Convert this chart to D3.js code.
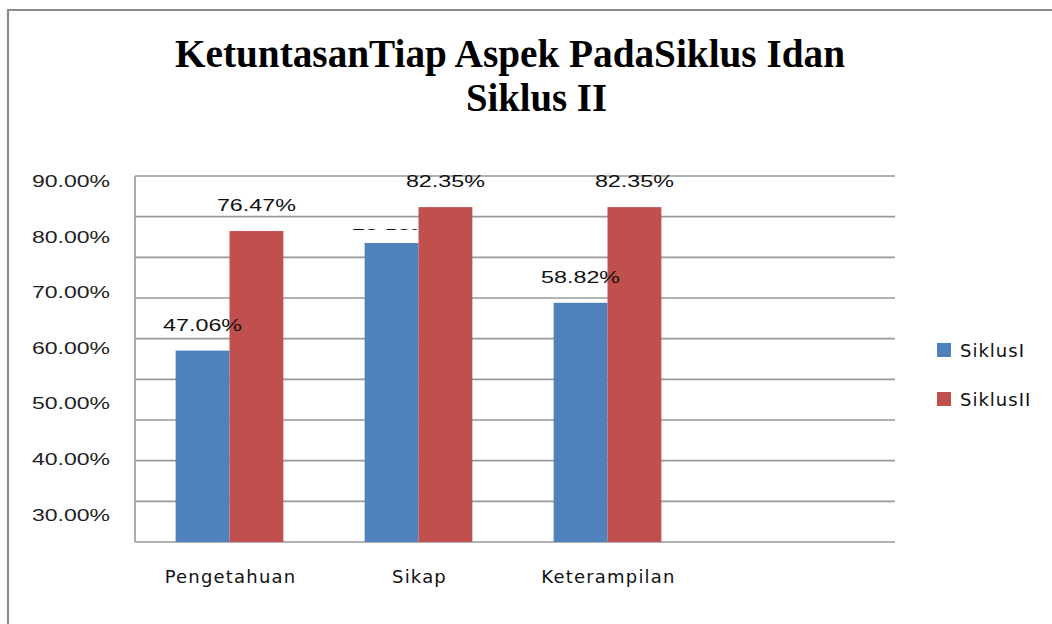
<!DOCTYPE html>
<html><head><meta charset="utf-8">
<script src="https://cdn.jsdelivr.net/npm/d3@7"></script>
<style>html,body{margin:0;padding:0;background:#fff;}</style>
</head><body>
<svg id="c" width="1052" height="624"></svg>
<script>
const categories = ["Pengetahuan", "Sikap", "Keterampilan"];
const seriesNames = ["SiklusI", "SiklusII"];
const siklusI = [0.4706, 0.7353, 0.5882];
const siklusII = [0.7647, 0.8235, 0.8235];
const tickLabels = [0.9, 0.8, 0.7, 0.6, 0.5, 0.4, 0.3];
const gridValues = [0, 0.1, 0.2, 0.3, 0.4, 0.5, 0.6, 0.7, 0.8, 0.9];
const colors = ["#4F81BD", "#C0504D"];

const svg = d3.select("#c");
const fmt = d3.format(".2%");

// outer frame
svg.append("path").attr("d", "M8,630 L8,10 L1060,10")
  .attr("fill", "none").attr("stroke", "#8c8c8c").attr("stroke-width", 2.2);

// title
const title = svg.append("g").attr("font-family", "Liberation Serif").attr("font-weight", "bold")
  .attr("font-size", 40).attr("fill", "#000");
title.append("text").attr("x", 175).attr("y", 67).attr("textLength", 670)
  .attr("lengthAdjust", "spacingAndGlyphs").text("KetuntasanTiap Aspek PadaSiklus Idan");
title.append("text").attr("x", 466).attr("y", 111).attr("textLength", 141)
  .attr("lengthAdjust", "spacingAndGlyphs").text("Siklus II");

const plotL = 135, plotR = 895, plotT = 176, plotB = 542;
const y = d3.scaleLinear().domain([0, 0.9]).range([plotB, plotT]);
const x0 = d3.scaleBand().domain(categories).range([plotL, plotL + 3 * 189]).paddingInner(0.43).paddingOuter(0.215);
const x1 = d3.scaleBand().domain(seriesNames).range([0, x0.bandwidth()]);
const yLab = d3.scaleLinear().domain([0.3, 0.9]).range([514.5, 181]);

// gridlines
svg.append("g").selectAll("line").data(gridValues).join("line")
  .attr("x1", plotL).attr("x2", plotR)
  .attr("y1", d => y(d)).attr("y2", d => y(d))
  .attr("stroke", "#999").attr("stroke-width", 1.6);
svg.append("line").attr("x1", plotL).attr("x2", plotL).attr("y1", plotT).attr("y2", plotB)
  .attr("stroke", "#999").attr("stroke-width", 1.6);

// y tick labels
svg.append("g").selectAll("text").data(tickLabels).join("text")
  .attr("x", 32).attr("y", d => yLab(d)).attr("dy", "0.36em")
  .attr("font-family", "Liberation Sans").attr("font-size", 17).attr("fill", "#222")
  .attr("textLength", 78).attr("lengthAdjust", "spacingAndGlyphs")
  .text(d => fmt(d));

const data = categories.map((c, i) => ({cat: c, vals: [siklusI[i], siklusII[i]]}));
const flat = [];
data.forEach(d => d.vals.forEach((v, j) => flat.push({cat: d.cat, s: seriesNames[j], j, v})));

// the Sikap / SiklusI label sits low and is mostly covered in the original
const hidden = flat.find(d => d.cat === "Sikap" && d.j === 0);
svg.append("clipPath").attr("id", "hid").append("rect")
  .attr("x", 0).attr("y", 0)
  .attr("width", x0(hidden.cat) + x1("SiklusII"))
  .attr("height", y(hidden.v) - 13);

// bars
svg.append("g").selectAll("rect").data(flat).join("rect")
  .attr("x", d => x0(d.cat) + x1(d.s))
  .attr("y", d => y(d.v))
  .attr("width", x1.bandwidth())
  .attr("height", d => plotB - y(d.v))
  .attr("fill", d => colors[d.j]);

// data labels
svg.append("g").selectAll("text").data(flat).join("text")
  .attr("x", d => x0(d.cat) + x1(d.s) + x1.bandwidth() / 2)
  .attr("y", d => y(d.v) - (d === hidden ? 8 : 26)).attr("dy", "0.36em")
  .attr("text-anchor", "middle")
  .attr("font-family", "Liberation Sans").attr("font-size", 17).attr("fill", "#111")
  .attr("textLength", 79).attr("lengthAdjust", "spacingAndGlyphs")
  .attr("clip-path", d => d === hidden ? "url(#hid)" : null)
  .text(d => fmt(d.v));

// category labels
svg.append("g").selectAll("text").data(categories).join("text")
  .attr("x", d => x0(d) + x0.bandwidth() / 2 + 1).attr("y", 577).attr("dy", "0.36em")
  .attr("text-anchor", "middle")
  .attr("font-family", "DejaVu Sans").attr("font-size", 18).attr("fill", "#111")
  .attr("letter-spacing", 1.2)
  .text(d => d);

// legend
const leg = svg.append("g").selectAll("g").data(seriesNames).join("g")
  .attr("transform", (d, i) => `translate(937,${343 + i * 49})`);
leg.append("rect").attr("width", 14).attr("height", 14).attr("fill", (d, i) => colors[i]);
leg.append("text").attr("x", 23).attr("y", 8).attr("dy", "0.36em")
  .attr("font-family", "DejaVu Sans").attr("font-size", 18).attr("fill", "#111")
  .attr("letter-spacing", 1)
  .text(d => d);
</script>
</body></html>
